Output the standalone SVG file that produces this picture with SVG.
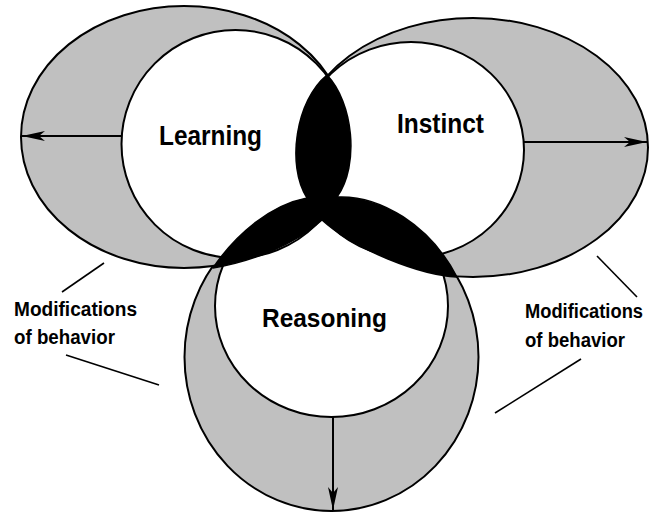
<svg xmlns="http://www.w3.org/2000/svg" width="650" height="514" viewBox="0 0 650 514">
  <style>
    .halo { fill: #c0c0c0; stroke: #000; stroke-width: 2; }
    .core { fill: #fff; stroke: #000; stroke-width: 2; }
    .title { font-family: "Liberation Sans", Arial, sans-serif; font-weight: bold; fill: #000; }
    .note { font-family: "Liberation Sans", Arial, sans-serif; font-weight: bold; font-size: 19.5px; fill: #000; }
    .arrow { stroke: #000; stroke-width: 2; fill: none; marker-end: url(#head); }
    .leader { stroke: #000; stroke-width: 1.6; fill: none; }
  </style>
  <defs>
    <marker id="head" markerUnits="userSpaceOnUse" markerWidth="26" markerHeight="14" viewBox="-24 -7 26 14" refX="0" refY="0" orient="auto">
      <path d="M0,0 L-23,-5 L-17,0 L-23,5 Z" fill="#000"/>
    </marker>
  </defs>
  <rect width="650" height="514" fill="#fff"/>

  <!-- grey outer zones: modifications of behaviour -->
  <g id="halos">
    <ellipse id="reasoning-halo" class="halo" cx="331.5" cy="357" rx="147" ry="154"/>
    <ellipse id="learning-halo" class="halo" cx="184" cy="137" rx="163" ry="131"/>
    <ellipse id="instinct-halo" class="halo" cx="473" cy="147.5" rx="175" ry="129.5"/>
  </g>

  <g id="reasoning">
    <ellipse class="core" cx="331.5" cy="306" rx="116.5" ry="111"/>
    <text class="title" x="262" y="327" font-size="26" textLength="125" lengthAdjust="spacingAndGlyphs">Reasoning</text>
  </g>
  <g id="learning">
    <circle class="core" cx="235.5" cy="144" r="114"/>
    <text class="title" x="159" y="145" font-size="28" textLength="103" lengthAdjust="spacingAndGlyphs">Learning</text>
  </g>
  <g id="instinct">
    <ellipse class="core" cx="411" cy="150" rx="113" ry="108"/>
    <text class="title" x="397" y="133" font-size="28" textLength="87" lengthAdjust="spacingAndGlyphs">Instinct</text>
  </g>

  <!-- black overlaps between the three circles -->
  <g id="overlaps">
    <path d="M327,75 C353,102 360,165 337,197 C380,195 430,225 457,277 C420,275 355,250 322,220 C295,245 250,262 213,268 C235,235 270,205 307,198 C286,165 296,100 327,75 Z" fill="#000" stroke="#000" stroke-width="1.5" stroke-linejoin="round"/>
  </g>

  <g id="connectors">
    <line class="arrow" x1="121" y1="136" x2="22" y2="136"/>
    <line class="arrow" x1="524" y1="142" x2="647" y2="142"/>
    <line class="arrow" x1="333" y1="417" x2="333" y2="510"/>
    <line class="leader" x1="62" y1="292" x2="104" y2="263"/>
    <line class="leader" x1="66" y1="355" x2="159" y2="385"/>
    <line class="leader" x1="597" y1="256" x2="637" y2="297"/>
    <line class="leader" x1="581" y1="359" x2="495" y2="413"/>
  </g>

  <g id="labels">
    <text class="note" x="14" y="316" textLength="123" lengthAdjust="spacingAndGlyphs">Modifications</text>
    <text class="note" x="14" y="344" textLength="101" lengthAdjust="spacingAndGlyphs">of behavior</text>
    <text class="note" x="525" y="318" textLength="118" lengthAdjust="spacingAndGlyphs">Modifications</text>
    <text class="note" x="525" y="347" textLength="100" lengthAdjust="spacingAndGlyphs">of behavior</text>
  </g>
</svg>
